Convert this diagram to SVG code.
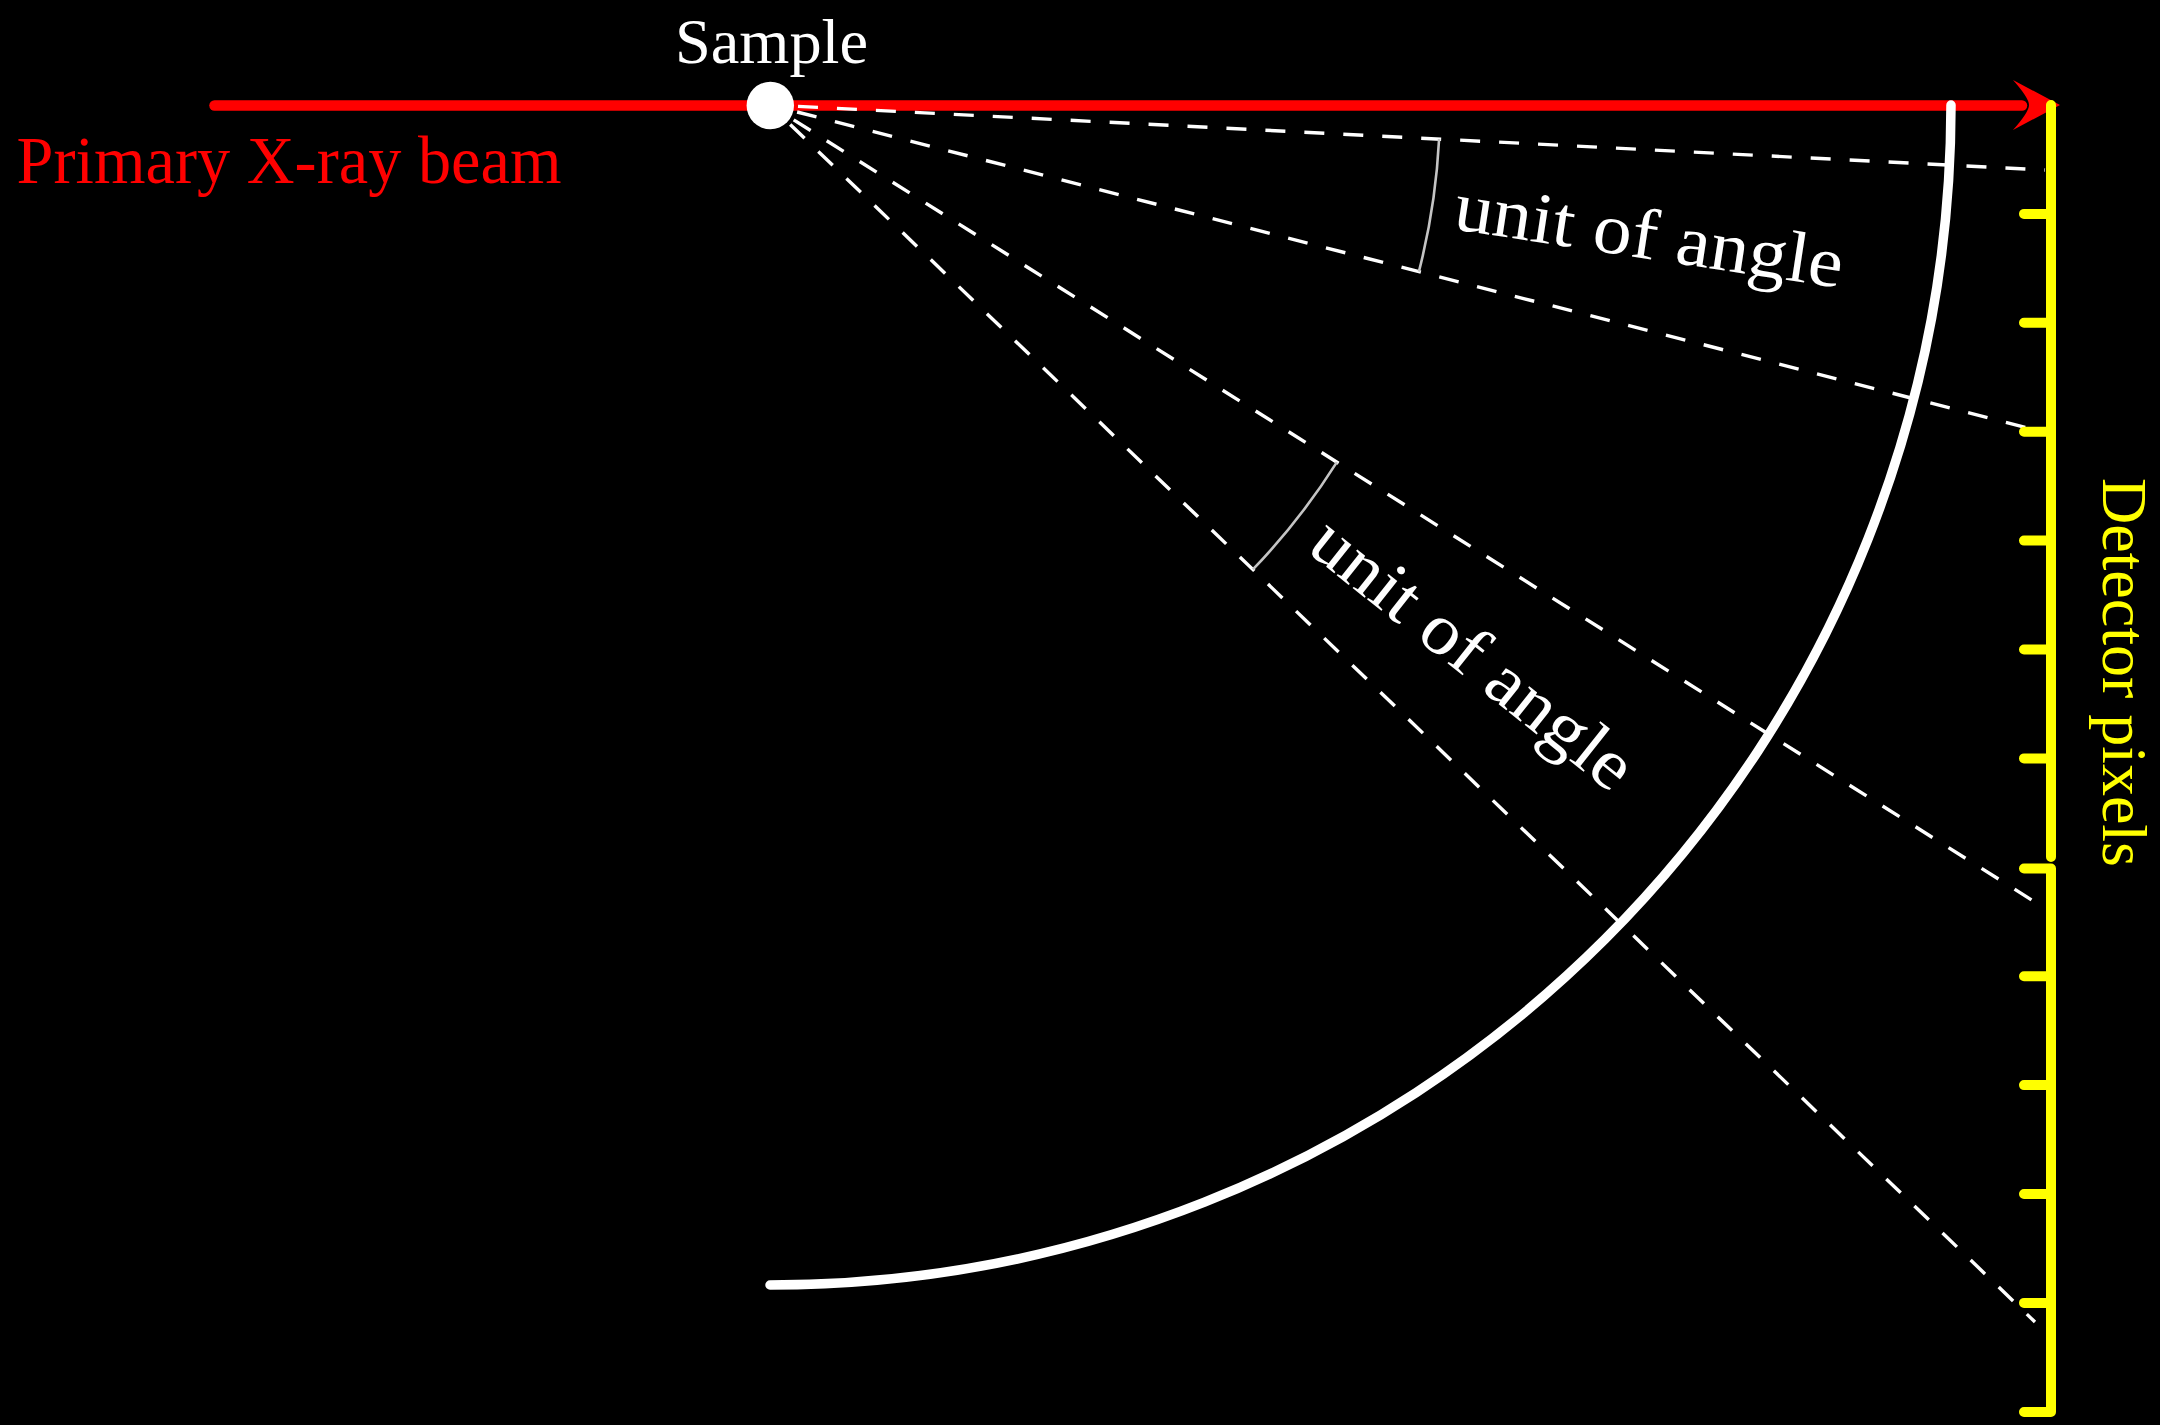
<svg xmlns="http://www.w3.org/2000/svg" width="2160" height="1425" viewBox="0 0 2160 1425">
<style>
.lbl{font-family:"Liberation Serif","DejaVu Serif",serif;}
.dash{stroke:#fff;stroke-width:3.4;stroke-dasharray:20 19;fill:none;}
.unit{stroke:#c4c4c4;stroke-width:2.6;fill:none;}
.det{stroke:#ffff00;stroke-width:10;stroke-linecap:round;stroke-linejoin:round;fill:none;}
</style>
<rect width="2160" height="1425" fill="#000"/>
<g id="beam">
<line x1="214.5" y1="105.5" x2="2022" y2="105.5" stroke="#ff0000" stroke-width="10.5" stroke-linecap="round"/>
<path d="M2060,105 L2013,80 Q2029,98 2029,105 Q2029,112 2013,130 Z" fill="#ff0000"/>
<text class="lbl" x="16.5" y="183" font-size="68" fill="#ff0000" textLength="545" lengthAdjust="spacingAndGlyphs">Primary X-ray beam</text>
</g>
<g id="connectors">
<line class="dash" x1="798" y1="106.4" x2="2045" y2="170"/>
<line class="dash" x1="797.1" y1="112" x2="2045" y2="432.4"/>
<line class="dash" x1="793.7" y1="119.9" x2="2046" y2="909"/>
<line class="dash" x1="790.2" y1="124.4" x2="2035" y2="1322"/>
</g>
<g id="ewald-arc">
<path d="M1951,105 A1181 1181 0 0 1 770,1285" stroke="#fff" stroke-width="9.5" stroke-linecap="round" fill="none"/>
</g>
<g id="angle-1">
<path class="unit" d="M1439.1,139.1 A670 670 0 0 1 1418.9,271.6"/>
<text class="lbl" x="1452" y="229" font-size="72" fill="#fff" textLength="392" lengthAdjust="spacingAndGlyphs" transform="rotate(8.66 1452 229)">unit of angle</text>
</g>
<g id="angle-2">
<path class="unit" d="M1336.9,462.1 A670 670 0 0 1 1252.9,569.4"/>
<text class="lbl" x="1305" y="550" font-size="72" fill="#fff" textLength="392" lengthAdjust="spacingAndGlyphs" transform="rotate(38.5 1305 550)">unit of angle</text>
</g>
<g id="detector">
<path class="det" d="M2051,105 V857 M2024,213.9 H2051 M2024,322.8 H2051 M2024,431.7 H2051 M2024,540.6 H2051 M2024,649.5 H2051 M2024,758.4 H2051"/>
<path class="det" d="M2024,868.5 H2051 V1412 H2024 M2024,976.2 H2051 M2024,1085.1 H2051 M2024,1194 H2051 M2024,1302.9 H2051"/>
<text class="lbl" x="2103" y="478" font-size="64" fill="#ffff00" textLength="389" lengthAdjust="spacingAndGlyphs" transform="rotate(90 2103 478)">Detector pixels</text>
</g>
<g id="sample">
<circle cx="770.3" cy="105.5" r="23.7" fill="#fff"/>
<text class="lbl" x="675" y="63" font-size="64" fill="#fff" textLength="193" lengthAdjust="spacingAndGlyphs">Sample</text>
</g>
</svg>
